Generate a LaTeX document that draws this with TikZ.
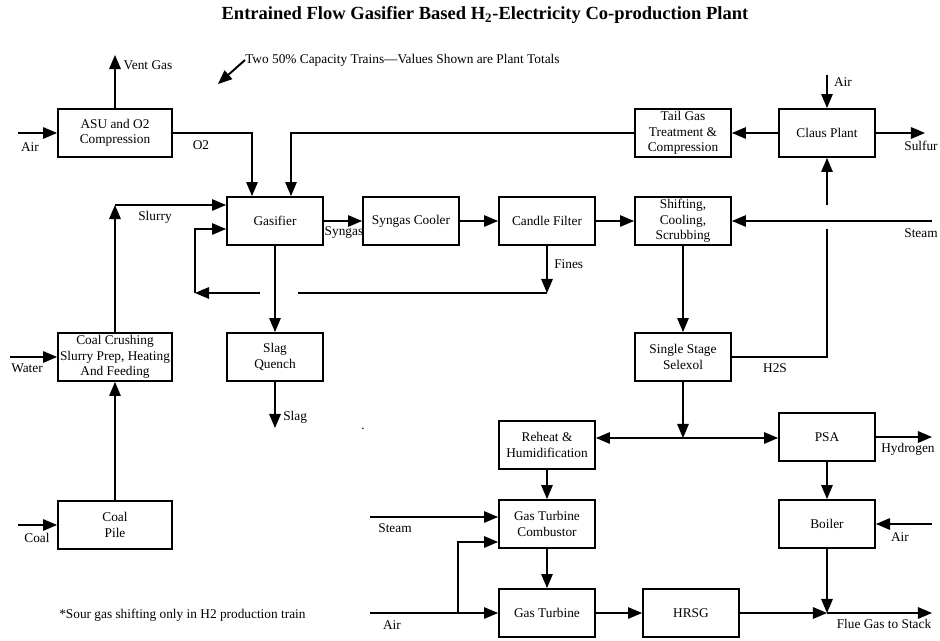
\documentclass[tikz,border=0pt]{standalone}
\usepackage{fontspec}
\setmainfont{Liberation Serif}
\usetikzlibrary{arrows,positioning}

\tikzset{
	unit/.style={rectangle, draw=black, line width=1.45pt, minimum width=72pt, minimum height=36pt, align=center, inner sep=1pt, font=\fontsize{10}{11.5}\selectfont},
	wideunit/.style={unit, minimum width=85.5pt},
	flow/.style={line width=1.45pt, -triangle 45},
	both/.style={line width=1.45pt, triangle 45-triangle 45},
	pipe/.style={line width=1.45pt},
	lbl/.style={font=\fontsize{10}{11.5}\selectfont, inner sep=0pt}
}

\begin{document}
\begin{tikzpicture}[x=0.75pt,y=-0.75pt]
\useasboundingbox (0,0) rectangle (940,641);

\node[font=\fontsize{13.9}{16}\selectfont\bfseries](Title) at (485,15) {Entrained Flow Gasifier Based H\textsubscript{2}-Electricity Co-production Plant};
\node[lbl, anchor=west](Note) at (245,60) {Two 50\% Capacity Trains---Values Shown are Plant Totals};
\coordinate (NoteTip) at (218,84);
	\draw[flow] (Note.west) -- (NoteTip);

% air separation
\node[wideunit](ASU) at (115,133) {ASU and O2\\Compression};
\coordinate (AirA) at (18,133);
\coordinate (VentA) at (115,55);
	\draw[flow] (AirA) -- (ASU);
	\draw[flow] (ASU) -- (VentA);
\node[lbl](AirLA) at (30,147) {Air};
\node[lbl](VentL) at (148,65) {Vent Gas};
\node[lbl](O2L) at (201,145) {O2};

\node[unit](Gas) at (275,221) {Gasifier};
	\draw[flow] (ASU.east) -| ([xshift=-17.25pt]Gas.north);

% sulfur recovery
\node[unit](Tail) at (683,133) {Tail Gas\\Treatment \&\\Compression};
\node[unit](Claus) at (827,133) {Claus Plant};
\coordinate (AirB) at (827,75);
\coordinate (SulfA) at (925,133);
	\draw[flow] (Tail.west) -| ([xshift=12pt]Gas.north);
	\draw[flow] (AirB) -- (Claus);
	\draw[flow] (Claus) -- (Tail);
	\draw[flow] (Claus) -- (SulfA);
\node[lbl](AirLB) at (843,82) {Air};
\node[lbl](SulfL) at (921,146) {Sulfur};

% syngas train
\node[unit](Cool) at (411,221) {Syngas Cooler};
\node[unit](Cand) at (547,221) {Candle Filter};
\node[unit](Shift) at (683,221) {Shifting,\\Cooling,\\Scrubbing};
	\draw[flow] (Gas) -- (Cool);
	\draw[flow] (Cool) -- (Cand);
	\draw[flow] (Cand) -- (Shift);
\node[lbl](SynL) at (344,233) {Syngas};
\coordinate (SteamA) at (932,221);
	\draw[flow] (SteamA) -- (Shift);
\node[lbl](SteamLA) at (921,233) {Steam};

% fines recycle
\coordinate (FinA) at (547,293);
\coordinate (GapR) at (298,293);
\coordinate (GapL) at (260,293);
\coordinate (LoopA) at (195,293);
	\draw[flow] (Cand) -- (FinA);
	\draw[pipe] (FinA) -- (GapR);
	\draw[flow] (GapL) -- (LoopA);
	\draw[flow] (LoopA) |- ([yshift=-6pt]Gas.west);
\node[lbl, anchor=west](FinL) at (554,264) {Fines};

% coal handling
\node[wideunit](Crush) at (115,357) {Coal Crushing\\Slurry Prep, Heating\\And Feeding};
\node[wideunit](Pile) at (115,525) {Coal\\Pile};
\coordinate (SlurA) at (115,205);
\coordinate (WatA) at (10,357);
\coordinate (CoalA) at (18,525);
	\draw[flow] (Crush) -- (SlurA);
	\draw[flow] (SlurA) -- ([yshift=12pt]Gas.west);
	\draw[flow] (WatA) -- (Crush);
	\draw[flow] (Pile) -- (Crush);
	\draw[flow] (CoalA) -- (Pile);
\node[lbl](SlurL) at (155,217) {Slurry};
\node[lbl](WatL) at (27,368) {Water};
\node[lbl](CoalL) at (37,538) {Coal};

\node[unit](Slag) at (275,357) {Slag\\Quench};
\coordinate (SlagA) at (275,428);
	\draw[flow] (Gas) -- (Slag);
	\draw[flow] (Slag) -- (SlagA);
\node[lbl, anchor=west](SlagL) at (283,417) {Slag};
\node[lbl](Dot) at (363,429) {.};

% acid gas removal
\node[unit](Selx) at (683,357) {Single Stage\\Selexol};
\coordinate (H2SA) at (827,229);
\coordinate (H2SB) at (827,205);
	\draw[flow] (Shift) -- (Selx);
	\draw[pipe] (Selx.east) -| (H2SA);
	\draw[flow] (H2SB) -- (Claus);
\node[lbl](H2SL) at (775,368) {H2S};

% power and hydrogen
\coordinate (Split) at (683,438);
\node[unit](Reh) at (547,445) {Reheat \&\\Humidification};
\node[unit](PSA) at (827,437) {PSA};
	\draw[flow] (Selx) -- (Split);
	\draw[both] (Reh.east |- Split) -- (PSA.west |- Split);
\node[unit](Comb) at (547,524) {Gas Turbine\\Combustor};
\node[unit](GT) at (547,613) {Gas Turbine};
\node[unit](HRSG) at (691,613) {HRSG};
\node[unit](Boil) at (827,524) {Boiler};
	\draw[flow] (Reh) -- (Comb);
	\draw[flow] (Comb) -- (GT);
	\draw[flow] (GT) -- (HRSG);
	\draw[flow] (PSA) -- (Boil);
\coordinate (SteamB) at (370,517);
\coordinate (AirC) at (370,613);
\coordinate (AirTee) at (458,613);
	\draw[flow] (SteamB) -- (Comb.west |- SteamB);
	\draw[flow] (AirC) -- (GT);
	\draw[flow] (AirTee) |- ([yshift=-13.5pt]Comb.west);
\node[lbl](SteamLB) at (395,528) {Steam};
\node[lbl](AirLC) at (392,625) {Air};

\coordinate (H2A) at (932,437);
\coordinate (AirD) at (932,524);
\coordinate (Flue) at (827,613);
\coordinate (FlueA) at (932,613);
	\draw[flow] (PSA) -- (H2A);
	\draw[flow] (AirD) -- (Boil);
	\draw[flow] (HRSG) -- (Flue);
	\draw[flow] (Boil) -- (Flue);
	\draw[flow] (Flue) -- (FlueA);
\node[lbl](H2L) at (908,449) {Hydrogen};
\node[lbl](AirLD) at (900,537) {Air};
\node[lbl](FlueL) at (884,624) {Flue Gas to Stack};

\node[lbl, anchor=west](Foot) at (59,615) {*Sour gas shifting only in H2 production train};
\end{tikzpicture}
\end{document}
